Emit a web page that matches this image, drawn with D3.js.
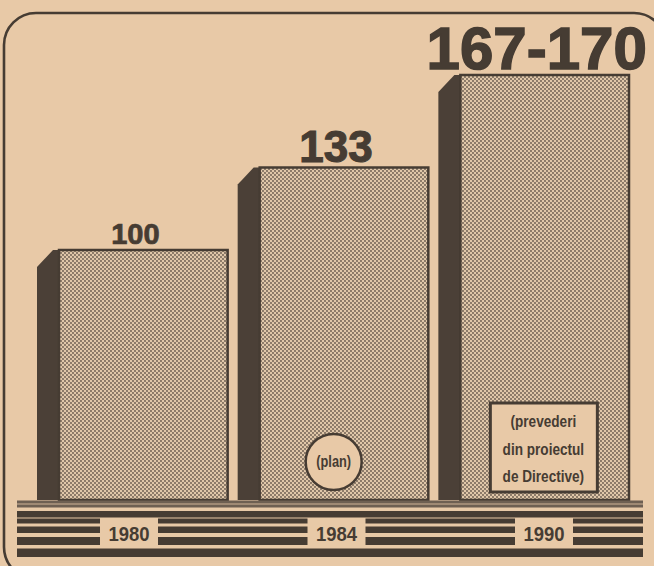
<!DOCTYPE html>
<html>
<head>
<meta charset="utf-8">
<script src="https://cdn.jsdelivr.net/npm/d3@7"></script>
<style>
  body { margin: 0; background: #e8c9a7; }
  svg { display: block; }
</style>
</head>
<body>
<div id="grafic"></div>
<script>
// date
var ani = ["1980", "1984", "1990"];
var valori = [100, 133, 170];
var etichete = ["100", "133", "167-170"];
var note = [[], ["(plan)"], ["(prevederi", "din proiectul", "de Directive)"]];

var latime = 654, inaltime = 566;
var hartie = "#e8c9a7";
var cerneala = "#463c33";
var baza = 500;
var marimiEticheta = [29, 44, 60];

var svg = d3.select("#grafic").append("svg")
    .attr("width", latime)
    .attr("height", inaltime);

// model de puncte (raster de ziar)
var defs = svg.append("defs");
var model = defs.append("pattern")
    .attr("id", "puncte")
    .attr("width", 4)
    .attr("height", 4)
    .attr("patternUnits", "userSpaceOnUse");
model.append("rect").attr("width", 4).attr("height", 4).attr("fill", "#e0c7a9");
model.append("circle").attr("cx", 1).attr("cy", 1).attr("r", 0.9).attr("fill", "#66574b");
model.append("circle").attr("cx", 3).attr("cy", 3).attr("r", 0.9).attr("fill", "#66574b");

var x = d3.scaleBand()
    .domain(ani)
    .range([37, 629])
    .paddingInner(0.05)
    .paddingOuter(0);

// pozitia anilor pe soclu
var xAn = d3.scalePoint()
    .domain(ani)
    .range([129, 544]);

var y = d3.scaleLinear()
    .domain([0, 200])
    .range([baza, 0]);

var latura = 22;   // latimea fetei laterale
var tesitura = 16;

// rama
svg.append("rect")
    .attr("x", 4)
    .attr("y", 13)
    .attr("width", 662)
    .attr("height", 566)
    .attr("rx", 32)
    .attr("fill", "none")
    .attr("stroke", cerneala)
    .attr("stroke-width", 2.6);

var coloane = svg.selectAll(".coloana")
    .data(ani)
    .enter().append("g")
    .attr("class", "coloana");

// fata laterala inchisa
coloane.append("path")
    .attr("d", function (d, i) {
        var x0 = x(d), yt = y(valori[i]);
        return "M" + x0 + "," + (yt + tesitura + 1) +
            "L" + (x0 + tesitura) + "," + yt +
            "L" + (x0 + latura + 1) + "," + yt +
            "L" + (x0 + latura + 1) + "," + baza +
            "L" + x0 + "," + baza + "Z";
    })
    .attr("fill", "#4b4037");

// fata frontala
coloane.append("rect")
    .attr("x", function (d) { return x(d) + latura; })
    .attr("y", function (d, i) { return y(valori[i]); })
    .attr("width", x.bandwidth() - latura)
    .attr("height", function (d, i) { return baza - y(valori[i]); })
    .attr("fill", "url(#puncte)")
    .attr("stroke", cerneala)
    .attr("stroke-width", 2.5);

// valori deasupra
coloane.append("text")
    .attr("x", function (d) { return x(d) + x.bandwidth() / 2 + 3; })
    .attr("y", function (d, i) { return y(valori[i]) - 6; })
    .attr("text-anchor", "middle")
    .attr("font-family", "'Liberation Sans', Arial, sans-serif")
    .attr("font-weight", "bold")
    .attr("font-size", function (d, i) { return marimiEticheta[i]; })
    .attr("fill", cerneala)
    .attr("stroke", cerneala)
    .attr("stroke-width", function (d, i) { return marimiEticheta[i] / 40; })
    .text(function (d, i) { return etichete[i]; });

var font = "'Liberation Sans', Arial, sans-serif";

// text ingustat pe orizontala
function textIngust(parinte, cx, cy, sir, marime, scala, greutate) {
    parinte.append("text")
        .attr("transform", "translate(" + cx + "," + cy + ") scale(" + scala + ",1)")
        .attr("text-anchor", "middle")
        .attr("font-family", font)
        .attr("font-weight", greutate)
        .attr("font-size", marime)
        .attr("fill", cerneala)
        .text(sir);
}

// nota (plan) - cerc
var i2 = 1;
var cx2 = x(ani[i2]) + 96, cy2 = 462;
svg.append("circle")
    .attr("cx", cx2).attr("cy", cy2).attr("r", 28)
    .attr("fill", hartie)
    .attr("stroke", cerneala)
    .attr("stroke-width", 2.5);
textIngust(svg, cx2, cy2 + 5, note[i2][0], 16, 0.8, "bold");

// nota 1990 - caseta
var i3 = 2;
var cx3 = x(ani[i3]) + 105;
svg.append("rect")
    .attr("x", cx3 - 53).attr("y", 403)
    .attr("width", 107).attr("height", 89)
    .attr("fill", hartie)
    .attr("stroke", cerneala)
    .attr("stroke-width", 3);
note[i3].forEach(function (sir, k) {
    textIngust(svg, cx3, 427 + k * 27.5, sir, 17, 0.8, "bold");
});

// soclul cu dungi
var xs0 = 17, xs1 = 643;
var soclu = svg.append("g");
soclu.append("rect").attr("x", xs0).attr("y", 500.5).attr("width", xs1 - xs0).attr("height", 7).attr("fill", "#6e5f52");
soclu.append("rect").attr("x", xs0).attr("y", 503.3).attr("width", xs1 - xs0).attr("height", 1.4).attr("fill", "#b49c84");
soclu.append("rect").attr("x", xs0).attr("y", 511).attr("width", xs1 - xs0).attr("height", 6.5).attr("fill", cerneala);
soclu.append("rect").attr("x", xs0).attr("y", 548.5).attr("width", xs1 - xs0).attr("height", 8.5).attr("fill", cerneala);

var dungi = [[518.5, 5], [526.5, 6.5], [537, 8]];
var golLat = 58;
var capete = [xs0];
ani.forEach(function (d) { capete.push(xAn(d) - golLat / 2, xAn(d) + golLat / 2); });
capete.push(xs1);
var segmente = [];
for (var k = 0; k < capete.length; k += 2) {
    segmente.push([capete[k], capete[k + 1]]);
}
dungi.forEach(function (dg) {
    soclu.selectAll(null)
        .data(segmente)
        .enter().append("rect")
        .attr("x", function (s) { return s[0]; })
        .attr("y", dg[0])
        .attr("width", function (s) { return s[1] - s[0]; })
        .attr("height", dg[1])
        .attr("fill", cerneala);
});

// anii
ani.forEach(function (d) {
    textIngust(soclu, xAn(d), 541, d, 21, 0.88, "bold");
});
</script>
</body>
</html>
